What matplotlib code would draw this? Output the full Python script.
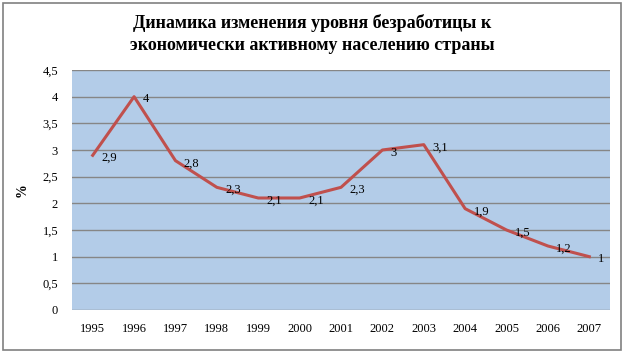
import matplotlib
matplotlib.use("Agg")
import matplotlib.pyplot as plt
from matplotlib.patches import Rectangle

years = ["1995", "1996", "1997", "1998", "1999", "2000", "2001",
         "2002", "2003", "2004", "2005", "2006", "2007"]
rate = [2.9, 4, 2.8, 2.3, 2.1, 2.1, 2.3, 3, 3.1, 1.9, 1.5, 1.2, 1]
yticks = [0, 0.5, 1, 1.5, 2, 2.5, 3, 3.5, 4, 4.5]

title = ("Динамика изменения уровня безработицы к\n"
         "экономически активному населению страны")

plt.rcParams["font.family"] = ["Liberation Serif", "DejaVu Serif"]

fig = plt.figure(figsize=(6.25, 3.52), dpi=100, facecolor="white")
ax = fig.add_axes([72 / 625, 1 - 310 / 352, 538 / 625, 240 / 352])
ax.set_facecolor("#B3CCE8")

x = list(range(len(years)))
ax.plot(x, rate, color="#C0504D", linewidth=2.2, zorder=3)
for xi, v in zip(x, rate):
    lbl = f"{v:g}".replace(".", ",")
    ax.annotate(lbl, (xi, v), xytext=(6, -2), textcoords="offset points",
                ha="left", va="center", fontsize=9, color="black", zorder=4)

ax.set_xlim(-0.5, len(years) - 0.5)
ax.set_ylim(0, 4.5)
ax.set_xticks(x)
ax.set_xticklabels(years, fontsize=9)
ax.set_yticks(yticks)
ax.set_yticklabels([f"{t:g}".replace(".", ",") for t in yticks], fontsize=9)
ax.tick_params(axis="y", length=0, pad=10)
ax.tick_params(axis="x", length=0, pad=9)
ax.grid(axis="y", color="#868686", linewidth=1)
ax.set_axisbelow(True)
for s in ax.spines.values():
    s.set_visible(False)

ax.set_ylabel("%", fontsize=10, fontweight="bold", labelpad=10)

fig.text(0.5, 1 - 34 / 352, title, ha="center", va="center", fontsize=13,
         fontweight="bold", linespacing=1.45)

fig.patches.append(Rectangle((0.004, 0.006), 0.99, 0.985, transform=fig.transFigure,
                             fill=False, edgecolor="#808080", linewidth=1.2))

fig.savefig("out.png", dpi=100, facecolor="white")
